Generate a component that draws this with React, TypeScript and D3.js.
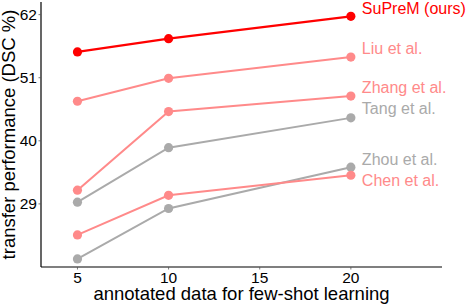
import React from "react";
import * as d3 from "d3";

const shots = [5, 10, 20];
const methods = ["Zhou et al.", "Tang et al.", "Chen et al.", "Zhang et al.", "Liu et al.", "SuPreM (ours)"];
const zhou = [19.4, 28.2, 35.4];
const tang = [29.3, 38.8, 44.0];
const chen = [23.6, 30.5, 34.0];
const zhang = [31.4, 45.1, 47.8];
const liu = [46.9, 50.9, 54.6];
const suprem = [55.5, 57.8, 61.7];
const seriesValues = [zhou, tang, chen, zhang, liu, suprem];
const seriesColors = ["#aaaaaa", "#aaaaaa", "#ff8a8a", "#ff8a8a", "#ff8a8a", "#ff0000"];
// label anchor (value units) next to the last point
const labelAt = [35.8, 44.6, 32.2, 48.4, 55.1, 62.1];
const yTicks = [29, 40, 51, 62];
const xTicks = [5, 10, 15, 20];

const W = 468;
const H = 306;
const FONT = "'Liberation Sans', Arial, Helvetica, sans-serif";

export default function App() {
  const x = d3.scaleLinear().domain([3, 25]).range([41, 442]);
  const y = d3.scaleLinear().domain([18, 64.2]).range([267, 2]);
  const line = d3
    .line<number>()
    .x((_, i) => x(shots[i]))
    .y((d) => y(d));

  return (
    <svg
      width={W}
      height={H}
      style={{ position: "absolute", left: 0, top: 0, background: "#fff" }}
      fontFamily={FONT}
    >
      {/* axes */}
      <line x1={x(3)} x2={x(3)} y1={y(64.2)} y2={y(18)} stroke="#000" strokeWidth={1.2} />
      <line x1={x(3)} x2={x(25)} y1={y(18)} y2={y(18)} stroke="#000" strokeWidth={1.2} />
      {yTicks.map((t) => (
        <g key={"y" + t}>
          <line x1={x(3) - 2.5} x2={x(3)} y1={y(t)} y2={y(t)} stroke="#555" strokeWidth={0.8} />
          <text x={x(3) - 4} y={y(t)} dy="0.35em" textAnchor="end" fontSize={15.5} fill="#000">
            {t}
          </text>
        </g>
      ))}
      {xTicks.map((t) => (
        <g key={"x" + t}>
          <line x1={x(t)} x2={x(t)} y1={y(18)} y2={y(18) + 2.5} stroke="#555" strokeWidth={0.8} />
          <text x={x(t)} y={y(18) + 16} textAnchor="middle" fontSize={15.5} fill="#000">
            {t}
          </text>
        </g>
      ))}
      <text
        x={(x(3) + x(25)) / 2}
        y={299.5}
        textAnchor="middle"
        fontSize={18.5}
        fill="#000"
      >
        annotated data for few-shot learning
      </text>
      <text
        transform={`translate(14.5,${(y(18) + y(64.2)) / 2}) rotate(-90)`}
        textAnchor="middle"
        fontSize={18.5}
        fill="#000"
      >
        transfer performance (DSC %)
      </text>

      {/* series */}
      {seriesValues.map((vals, si) => (
        <g key={methods[si]}>
          <path
            d={line(vals) || ""}
            fill="none"
            stroke={seriesColors[si]}
            strokeWidth={si === 5 ? 2.2 : 2}
          />
          {vals.map((v, i) => (
            <circle key={i} cx={x(shots[i])} cy={y(v)} r={4.6} fill={seriesColors[si]} />
          ))}
          <text x={x(20) + 11} y={y(labelAt[si])} fontSize={16} fill={seriesColors[si]}>
            {methods[si]}
          </text>
        </g>
      ))}
    </svg>
  );
}
